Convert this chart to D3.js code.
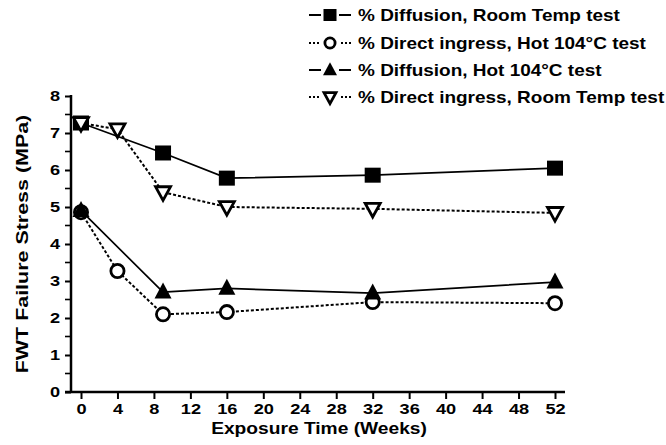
<!DOCTYPE html>
<html>
<head>
<meta charset="utf-8">
<script src="https://d3js.org/d3.v7.min.js"></script>
<style>
  body { margin: 0; background: #fff; }
  text { font-family: "Liberation Sans", Arial, sans-serif; font-weight: bold; fill: #000; }
</style>
</head>
<body>
<svg id="chart" width="666" height="445"></svg>
<script>
// data
var xTicks = [0, 4, 8, 12, 16, 20, 24, 28, 32, 36, 40, 44, 48, 52];
var yTicks = [0, 1, 2, 3, 4, 5, 6, 7, 8];

var weeksA = [0, 9, 16, 32, 52];
var weeksB = [0, 4, 9, 16, 32, 52];

var diffRoom = [7.27, 6.46, 5.78, 5.86, 6.05];
var directHot = [4.86, 3.27, 2.1, 2.16, 2.43, 2.4];
var diffHot = [4.9, 2.7, 2.8, 2.67, 2.97];
var directRoom = [7.27, 7.1, 5.4, 5.0, 4.95, 4.84];

var legendLabels = [
  "% Diffusion, Room Temp test",
  "% Direct ingress, Hot 104\u00B0C test",
  "% Diffusion, Hot 104\u00B0C test",
  "% Direct ingress, Room Temp test"
];

var series = [
  { x: weeksA, y: diffRoom, marker: "square", dash: null },
  { x: weeksB, y: directHot, marker: "circle", dash: "3,2" },
  { x: weeksA, y: diffHot, marker: "triUp", dash: null },
  { x: weeksB, y: directRoom, marker: "triDown", dash: "3,2" }
];

var svg = d3.select("#chart");

var x = d3.scaleLinear().domain([0, 52]).range([81, 555]);
var y = d3.scaleLinear().domain([0, 8]).range([392, 96]);

// the scanned lettering is wide, so text gets stretched sideways
var tickStretch = 1.3;

function drawMarker(g, type, cx, cy, s) {
  if (type === "square") {
    g.append("rect").attr("x", cx - s / 2).attr("y", cy - s / 2 + 0.5)
      .attr("width", s).attr("height", s - 1).attr("fill", "#000");
  } else if (type === "circle") {
    g.append("circle").attr("cx", cx).attr("cy", cy).attr("r", s / 2 - 1.4)
      .attr("fill", "#fff").attr("stroke", "#000").attr("stroke-width", 2.8);
  } else if (type === "triUp") {
    var h = s;
    g.append("path").attr("d", "M" + cx + "," + (cy - h * 0.6) + "L" + (cx + s / 2 + 0.5) + "," + (cy + h * 0.4) +
      "L" + (cx - s / 2 - 0.5) + "," + (cy + h * 0.4) + "Z").attr("fill", "#000");
  } else {
    var h2 = s * 0.85;
    g.append("path").attr("d", "M" + cx + "," + (cy + h2 * 0.6) + "L" + (cx + s / 2 - 0.5) + "," + (cy - h2 * 0.4) +
      "L" + (cx - s / 2 + 0.5) + "," + (cy - h2 * 0.4) + "Z")
      .attr("fill", "#fff").attr("stroke", "#000").attr("stroke-width", 2.8).attr("stroke-linejoin", "miter");
  }
}

// axes
var xAxis = d3.axisBottom(x).tickValues(xTicks).tickSize(7).tickPadding(5);
var gx = svg.append("g").attr("transform", "translate(0,392)").call(xAxis);
gx.select(".domain").remove();
gx.append("line").attr("x1", 65).attr("x2", 565).attr("y1", 0).attr("y2", 0)
  .attr("stroke", "#000").attr("stroke-width", 2.5);
gx.selectAll(".tick line").attr("stroke-width", 2);
gx.selectAll(".tick text").attr("font-size", 14)
  .style("font-family", "Liberation Sans, Arial, sans-serif").style("font-weight", "bold")
  .attr("transform", "scale(" + tickStretch + ",1)");

var yAxis = d3.axisLeft(y).tickValues(yTicks).tickSize(6).tickPadding(5);
var gy = svg.append("g").attr("transform", "translate(71,0)").call(yAxis);
gy.select(".domain").remove();
gy.append("line").attr("x1", 0).attr("x2", 0).attr("y1", y(8) - 1).attr("y2", 393)
  .attr("stroke", "#000").attr("stroke-width", 2.5);
gy.selectAll(".tick line").attr("stroke-width", 2);
gy.selectAll(".tick text").attr("font-size", 14)
  .style("font-family", "Liberation Sans, Arial, sans-serif").style("font-weight", "bold")
  .attr("x", -11 / tickStretch).attr("transform", "scale(" + tickStretch + ",1)");

// minor y ticks
var minor = d3.range(0.5, 8, 1);
gy.selectAll(".minor").data(minor).enter().append("line")
  .attr("x1", -6).attr("x2", 0).attr("y1", function(d) { return y(d); }).attr("y2", function(d) { return y(d); })
  .attr("stroke", "#000").attr("stroke-width", 1.6);

// titles
svg.append("text").attr("transform", "translate(319,434) scale(1.2,1)").attr("text-anchor", "middle")
  .attr("font-size", 16).text("Exposure Time (Weeks)");
svg.append("text").attr("transform", "translate(28,244) rotate(-90) scale(1.3,1)").attr("text-anchor", "middle")
  .attr("font-size", 16.5).text("FWT Failure Stress (MPa)");

// lines
var plot = svg.append("g");
series.forEach(function(s) {
  var pts = s.x.map(function(w, i) { return [x(w), y(s.y[i])]; });
  plot.append("path").attr("d", d3.line()(pts)).attr("fill", "none")
    .attr("stroke", "#000").attr("stroke-width", s.dash ? 2 : 1.7)
    .attr("stroke-dasharray", s.dash);
});
series.forEach(function(s) {
  var g = plot.append("g");
  s.x.forEach(function(w, i) {
    drawMarker(g, s.marker, x(w), y(s.y[i]), 16);
  });
});

// legend
var legendY = [15, 43, 70, 97];
var lg = svg.append("g");
series.forEach(function(s, i) {
  var ly = legendY[i];
  lg.append("line").attr("x1", 309).attr("x2", 351).attr("y1", ly).attr("y2", ly)
    .attr("stroke", "#000").attr("stroke-width", 2)
    .attr("stroke-dasharray", s.dash ? "2,2" : null);
  var g = lg.append("g");
  g.append("rect").attr("x", 321).attr("y", ly - 7).attr("width", 18).attr("height", 14).attr("fill", "#fff");
  drawMarker(g, s.marker, 330, ly, 13);
  lg.append("text").attr("transform", "translate(358," + (ly + 6) + ") scale(1.15,1)")
    .attr("font-size", 16.5).text(legendLabels[i]);
});
</script>
</body>
</html>
